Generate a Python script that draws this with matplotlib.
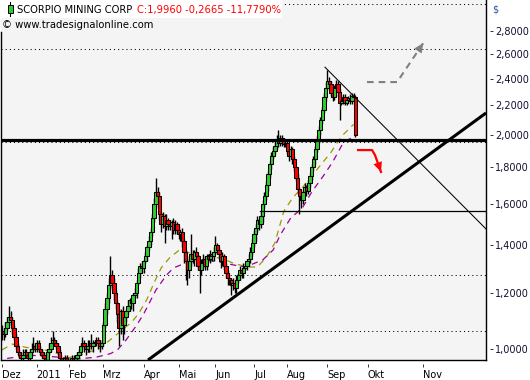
import matplotlib
matplotlib.use("Agg")
import matplotlib.pyplot as plt
from matplotlib.lines import Line2D
from matplotlib.patches import Rectangle
from matplotlib.ticker import FixedLocator, FuncFormatter, NullLocator

W, H = 530, 380

# daily candles, Dec 2010 .. Sep 2011 (open = previous close)
first_open = 1.05
closes = [
    1.06, 1.05, 1.07, 1.09, 1.11,
    1.10, 1.07, 1.04, 1.01, 0.99,
    0.98, 0.97, 0.98, 0.99, 0.98, 0.97,
    0.99, 1.00, 1.01, 1.00, 1.02, 1.00,
    0.99, 0.98, 0.97, 0.96,
    0.99, 1.00, 1.02, 1.03, 1.02, 1.01,
    0.99, 0.97, 0.96,
    0.96, 0.97, 0.96, 0.95, 0.96, 0.97, 0.96, 0.97, 0.98,
    0.99, 1.01, 1.02, 1.01,
    1.00, 1.01, 1.02, 1.01, 1.02,
    1.02, 1.03, 1.02, 1.01, 1.02,
    1.08, 1.14, 1.18, 1.23, 1.27,
    1.24, 1.20, 1.16,
    1.12, 1.07, 1.13, 1.08, 1.11,
    1.13, 1.15, 1.17, 1.16, 1.19, 1.20,
    1.24, 1.28, 1.31, 1.30, 1.33, 1.35,
    1.39, 1.42, 1.46, 1.53, 1.60,
    1.66, 1.64, 1.55, 1.50,
    1.54, 1.49, 1.52, 1.50,
    1.49, 1.51, 1.47, 1.50,
    1.47, 1.45, 1.46, 1.42, 1.37, 1.33,
    1.29, 1.33, 1.36, 1.34, 1.37, 1.35,
    1.31, 1.29, 1.32, 1.34, 1.31, 1.35,
    1.34, 1.36, 1.35, 1.37, 1.40, 1.38,
    1.36, 1.33, 1.35, 1.31, 1.28, 1.26,
    1.25, 1.23, 1.24, 1.22,
    1.25, 1.27, 1.29, 1.28, 1.30, 1.31,
    1.33, 1.34, 1.37, 1.41, 1.45, 1.48,
    1.52, 1.50, 1.54, 1.60, 1.64, 1.70,
    1.76, 1.82, 1.87, 1.90, 1.93,
    1.97, 1.95, 1.98, 1.96, 1.94, 1.95,
    1.90, 1.87, 1.91, 1.85, 1.80,
    1.74, 1.68, 1.64, 1.62, 1.66,
    1.69, 1.67, 1.71, 1.75, 1.80,
    1.85, 1.91, 1.97, 2.03, 2.10,
    2.17, 2.26, 2.33, 2.38, 2.36,
    2.29, 2.26, 2.33, 2.36, 2.30, 2.22,
    2.23, 2.26, 2.22, 2.24, 2.25, 2.23,
    2.27, 2.2625, 1.996,
]
# wick length above / below the body, in cents
wick_hi = [
    2, 1, 2, 2, 4,  2, 1, 1, 1, 1,  1, 1, 2, 1, 1, 1,  1, 2, 3, 1, 1, 1,
    1, 1, 1, 1,  1, 2, 2, 3, 1, 1,  1, 1, 1,  1, 1, 1, 1, 1, 1, 1, 1, 1,
    1, 1, 2, 1,  1, 2, 1, 3, 1,  1, 1, 1, 1, 1,  1, 2, 2, 3, 8,  2, 2, 1,
    1, 2, 1, 2, 1,  1, 2, 1, 1, 1, 2,  1, 2, 1, 2, 1, 2,  1, 2, 2, 2, 3,
    8, 3, 2, 1,  2, 1, 3, 1,  2, 1, 2, 2,  1, 2, 1, 2, 1, 1,
    1, 2, 9, 2, 1, 2,  1, 1, 2, 2, 1, 1,  1, 2, 1, 2, 4, 1,
    1, 1, 2, 1, 1, 1,  1, 1, 2, 1,  2, 1, 2, 1, 2, 1,  1, 2, 2, 2, 2, 2,
    2, 1, 2, 2, 2, 2,  2, 2, 2, 2, 3,  3, 6, 2, 2, 2, 1,  2, 1, 2, 1, 2,
    1, 2, 1, 2, 2,  2, 1, 2, 2, 2,  2, 2, 2, 3, 2,  2, 3, 4, 9, 3,
    2, 2, 2, 3, 2, 2,  2, 2, 2, 2, 2, 3,  2, 2, 1,
]
wick_lo = [
    2, 2, 1, 1, 2,  2, 2, 1, 1, 1,  1, 1, 1, 1, 1, 1,  1, 1, 1, 1, 1, 1,
    1, 1, 1, 1,  1, 1, 1, 1, 1, 1,  1, 1, 1,  1, 1, 1, 1, 1, 1, 1, 1, 1,
    1, 1, 1, 2,  2, 1, 2, 1, 2,  1, 1, 2, 2, 1,  1, 1, 2, 2, 2,  2, 3, 2,
    3, 6, 2, 5, 3,  2, 1, 2, 2, 3, 1,  2, 1, 2, 2, 2, 1,  2, 1, 2, 2, 2,
    2, 2, 3, 4,  2, 8, 2, 3,  2, 6, 2, 2,  2, 2, 3, 3, 5, 8,
    6, 3, 2, 2, 3, 2,  2, 9, 2, 2, 2, 2,  1, 2, 2, 2, 1, 2,
    2, 3, 2, 2, 2, 3,  2, 4, 2, 2,  2, 1, 2, 2, 2, 1,  2, 2, 2, 2, 2, 3,
    2, 3, 2, 3, 2, 2,  3, 2, 3, 2, 2,  2, 3, 2, 3, 2, 2,  2, 3, 2, 3, 2,
    2, 3, 9, 4, 2,  2, 3, 2, 2, 2,  2, 3, 2, 2, 3,  3, 2, 3, 2, 3,
    2, 3, 2, 2, 3, 12,  2, 2, 2, 2, 2, 2,  2, 2, 1,
]

# moving averages (bar index, price)
ma_fast_idx = [0, 6, 14, 22, 30, 37, 47, 56, 64, 74, 78, 83, 87, 91, 96, 101,
               106, 112, 118, 125, 132, 140, 146, 151, 156, 161, 166, 172,
               181, 188, 194, 201]
ma_fast = [0.997, 1.016, 1.005, 1.0, 0.99, 0.971, 0.984, 1.003, 1.04, 1.09,
           1.12, 1.176, 1.24, 1.30, 1.345, 1.375, 1.368, 1.35, 1.345, 1.343,
           1.321, 1.304, 1.304, 1.345, 1.41, 1.56, 1.63, 1.69, 1.80, 1.89,
           1.99, 2.07]
ma_slow_idx = [3, 16, 30, 43, 54, 62, 66, 71, 77, 81, 88, 94, 98, 103, 111,
               117, 125, 132, 139, 149, 155, 159, 165, 169, 172, 177, 184,
               189, 195, 201]
ma_slow = [0.97, 0.98, 0.975, 0.968, 0.974, 0.985, 0.997, 1.03, 1.08, 1.12,
           1.21, 1.27, 1.30, 1.315, 1.325, 1.333, 1.325, 1.313, 1.304, 1.334,
           1.378, 1.446, 1.528, 1.558, 1.584, 1.662, 1.756, 1.832, 1.949, 1.99]

month_labels = ["Dez", "2011", "Feb", "Mrz", "Apr", "Mai", "Jun", "Jul",
                "Aug", "Sep", "Okt", "Nov"]
month_pos = [0, 19.9, 38.5, 57.9, 81.2, 101.4, 121.8, 144.2, 163.1, 185.9,
             209.0, 240.5]
price_ticks = [1.0, 1.2, 1.4, 1.6, 1.8, 2.0, 2.2, 2.4, 2.6, 2.8]

# analyst drawings (bar index, price)
up_trend_x, up_trend_y = [83.5, 276.6], [0.965, 2.147]
down_trend_x, down_trend_y = [184.6, 276.6], [2.49, 1.475]
support_level = 1.967
aug_low_x, aug_low_y = [147.5, 276.6], [1.561, 1.561]
dotted_levels = [3.055, 2.638, 1.956, 1.271, 1.060]
up_arrow_x, up_arrow_y = [208.6, 225.8, 240.8], [2.373, 2.373, 2.693]
down_arrow_x, down_arrow_y = [203.5, 211.5, 213.2, 216.6], [1.904, 1.904, 1.873, 1.774]

GREEN = "#2ecc2e"
RED = "#ff0000"

plt.rcParams["font.family"] = ["DejaVu Sans"]
fig = plt.figure(figsize=(W / 100, H / 100), dpi=100, facecolor="white")
ax = fig.add_axes([1 / W, 20 / H, 485 / W, 360 / H])
ax.set_facecolor("#f4f4f4")
ax.set_yscale("log")
ax.set_xlim(-0.51, 276.6)
ax.set_ylim(0.965, 3.095)

opens = [first_open] + closes[:-1]
xs = list(range(len(closes)))
highs = [max(o, c) + h / 100 for o, c, h in zip(opens, closes, wick_hi)]
lows = [min(o, c) - l / 100 for o, c, l in zip(opens, closes, wick_lo)]
bottoms = [min(o, c) for o, c in zip(opens, closes)]
heights = [max(abs(c - o), 0.002) for o, c in zip(opens, closes)]
colors = [GREEN if c >= o else RED for o, c in zip(opens, closes)]

for lvl in dotted_levels:
    ax.axhline(lvl, color="black", lw=0.75, ls=(0, (1, 3)), zorder=1)

ax.plot(ma_fast_idx, ma_fast, color="#9a9a00", lw=0.9, ls=(0, (5, 4)), zorder=2)
ax.plot(ma_slow_idx, ma_slow, color="#9a009a", lw=0.9, ls=(0, (5, 4)), zorder=2)

ax.vlines(xs, lows, highs, color="black", lw=1.0, zorder=3)
ax.bar(xs, heights, bottom=bottoms, width=1.9, color=colors,
       edgecolor="black", linewidth=0.75, zorder=4)

ax.axhline(support_level, color="black", lw=2.3, zorder=5)
ax.plot(aug_low_x, aug_low_y, color="black", lw=0.9, zorder=5)
ax.plot(up_trend_x, up_trend_y, color="black", lw=2.2, zorder=5,
        solid_capstyle="butt")
ax.plot(down_trend_x, down_trend_y, color="black", lw=0.75, zorder=5)

# expected moves
ax.plot(up_arrow_x, up_arrow_y, color="#808080", lw=1.5, ls=(0, (3.2, 2.4)),
        zorder=6)
ax.annotate("", xy=(up_arrow_x[-1], up_arrow_y[-1]),
            xytext=(up_arrow_x[-2], up_arrow_y[-2]),
            arrowprops=dict(arrowstyle="-|>,head_length=0.7,head_width=0.32",
                            color="#808080", lw=0, shrinkA=0, shrinkB=0),
            zorder=6)
ax.plot(down_arrow_x, down_arrow_y, color=RED, lw=1.6, zorder=6)
ax.annotate("", xy=(down_arrow_x[-1], down_arrow_y[-1]),
            xytext=(down_arrow_x[-2], down_arrow_y[-2]),
            arrowprops=dict(arrowstyle="-|>,head_length=0.7,head_width=0.32",
                            color=RED, lw=0, shrinkA=0, shrinkB=0),
            zorder=6)

# axes / ticks
for side in ("top", "right", "bottom", "left"):
    ax.spines[side].set_visible(False)
ax.spines["right"].set_position(("outward", 3))
ax.spines["bottom"].set_position(("outward", 3))
left_top = 1 - 32 / 360
for xx, yy in (([0, 0], [0, left_top]), ([0, 1], [0, 0]), ([1, 1], [0, 1])):
    ax.add_line(Line2D(xx, yy, transform=ax.transAxes, color="black", lw=1,
                       clip_on=False, zorder=7))

ax.yaxis.tick_right()
ax.yaxis.set_major_locator(FixedLocator(price_ticks))
ax.yaxis.set_minor_locator(NullLocator())
ax.yaxis.set_major_formatter(
    FuncFormatter(lambda v, _: f"{v:.4f}".replace(".", ",")))
ax.tick_params(axis="y", which="major", direction="out", length=2.2, width=0.7,
               pad=1.2, labelsize=7, colors="#333333", labelcolor="#101030")

ax.set_xticks(month_pos)
ax.set_xticklabels(month_labels)
ax.tick_params(axis="x", direction="out", length=2.4, width=0.7, pad=1.5,
               labelsize=7, colors="#333333", labelcolor="black")
for lab in ax.get_xticklabels():
    lab.set_horizontalalignment("left")

fig.text(492 / W, 1 - 10 / H, "$", fontsize=7, color="#2a5a9a",
         ha="left", va="center")

# header box (first line only)
fig.add_artist(Rectangle((0, 1 - 17.5 / H), 282 / W, 17.5 / H,
                         transform=fig.transFigure, fc="white", ec="none",
                         zorder=8))
fig.add_artist(Line2D([9.8 / W, 9.8 / W], [1 - 2 / H, 1 - 16 / H],
                      transform=fig.transFigure, color="black", lw=0.8,
                      zorder=9))
fig.add_artist(Rectangle((7.5 / W, 1 - 12.7 / H), 5 / W, 7.5 / H,
                         transform=fig.transFigure, fc=GREEN, ec="black",
                         lw=0.7, zorder=10))
fig.text(17 / W, 1 - 10 / H, "SCORPIO MINING CORP", fontsize=7.2,
         color="black", va="center", ha="left", zorder=11)
fig.text(137 / W, 1 - 10 / H, "C:1,9960 -0,2665 -11,7790%", fontsize=7.2,
         color=RED, va="center", ha="left", zorder=11)
fig.text(2.5 / W, 1 - 25.5 / H, "\u00a9 www.tradesignalonline.com", fontsize=7.2,
         color="black", va="center", ha="left", zorder=11)

fig.savefig("out.png", dpi=100, facecolor="white")
